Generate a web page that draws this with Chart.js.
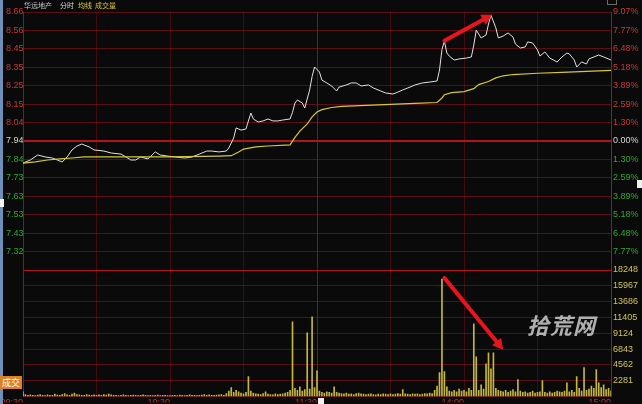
<!DOCTYPE html>
<html>
<head>
<meta charset="utf-8">
<script src="https://cdn.jsdelivr.net/npm/chart.js@4/dist/chart.umd.min.js"></script>
<style>
  html, body { margin: 0; padding: 0; background: #0a0a0a; }
  #wrap { position: relative; width: 642px; height: 404px; overflow: hidden; background: #0a0a0a;
          font-family: "Noto Sans CJK SC", sans-serif; }
  #priceChart { position: absolute; left: 0; top: 0; }
  #volChart { position: absolute; left: 0; top: 262px; }
  .t { position: absolute; top: 0; font-size: 7px; line-height: 10px; white-space: nowrap; }
  #edge { position: absolute; left: 0; top: 0; width: 3px; height: 404px; background: #6f8fb8; }
  .sq { position: absolute; background: #f0f0f0; }
  #corner { position: absolute; left: 607px; top: -4px; width: 8px; height: 7px; border: 1px solid #6a6a6a; }
  #volTag { position: absolute; left: 0; top: 376px; width: 22px; height: 13px; background: #e08020;
            color: #fff; font-size: 9px; line-height: 13px; text-align: center; }
  #mark { position: absolute; left: 527px; top: 308px; font-size: 22px; font-style: italic; font-weight: bold;
          color: rgba(205,205,205,0.85); letter-spacing: 1px; }
</style>
</head>
<body>
<div id="wrap">
  <canvas id="priceChart" width="642" height="280"></canvas>
  <canvas id="volChart" width="642" height="142"></canvas>
  <div id="edge"></div>
  <span class="t" style="left:24px;color:#c8c8c8">华远地产</span>
  <span class="t" style="left:60px;color:#dcdcdc">分时</span>
  <span class="t" style="left:78px;color:#e0d040">均线</span>
  <span class="t" style="left:95px;color:#d8c040">成交量</span>
  <div id="corner"></div>
  <div class="sq" style="left:0;top:199px;width:4px;height:8px"></div>
  <div class="sq" style="left:318px;top:398px;width:6px;height:6px"></div>
  <div class="sq" style="left:637px;top:180px;width:5px;height:8px"></div>
  <div id="volTag">成交</div>
  <div id="mark">拾荒网</div>
</div>
<script>
const prevClose = 7.94;
const priceMin = 7.22;
const priceMax = 8.66;
const volMax = 18248;

const priceTicks = [8.66, 8.557, 8.454, 8.351, 8.249, 8.146, 8.043, 7.94, 7.837, 7.734, 7.631, 7.529, 7.426, 7.323, 7.22];
const priceTickLabels = ['8.66', '8.56', '8.45', '8.35', '8.25', '8.15', '8.04', '7.94', '7.84', '7.73', '7.63', '7.53', '7.43', '7.32', ''];
const pctTickLabels = ['9.07%', '7.77%', '6.48%', '5.18%', '3.89%', '2.59%', '1.30%', '0.00%', '1.30%', '2.59%', '3.89%', '5.18%', '6.48%', '7.77%', ''];
const volTicks = [18248, 15967, 13686, 11405, 9124, 6843, 4562, 2281, 0];
const volTickLabels = ['18248', '15967', '13686', '11405', '9124', '6843', '4562', '2281', ''];
const timeTicks = [0, 30, 60, 90, 120, 150, 180, 210, 240];
const timeTickLabels = ['09:30', '', '10:30', '', '11:30', '', '14:00', '', '15:00'];

// price line (minute of session, price)
const priceMinutes = [0, 3, 6, 9, 12, 14, 16, 18, 20, 22, 24, 27, 29, 33, 36, 40, 42, 44, 46, 48,
  51, 54, 56, 59, 62, 66, 69, 72, 75, 77, 80, 83, 84, 86, 87, 89, 91, 93, 94, 96,
  98, 100, 102, 104, 106, 109, 110, 111, 112, 114, 115, 117, 118, 119, 121, 122, 124, 126, 128, 129,
  132, 134, 136, 138, 141, 143, 146, 148, 151, 153, 155, 158, 160, 163, 166, 169, 170, 171, 172, 173,
  174, 176, 178, 181, 183, 184, 185, 187, 189, 190, 191, 193, 194, 196, 198, 200, 201, 203, 205, 206,
  208, 210, 211, 213, 215, 218, 220, 222, 223, 225, 226, 228, 230, 231, 233, 235, 237, 240];
const priceValues = [7.817, 7.834, 7.862, 7.851, 7.845, 7.834, 7.823, 7.851, 7.890, 7.912, 7.923, 7.907, 7.890, 7.884, 7.873, 7.867, 7.851, 7.834, 7.834, 7.851,
  7.840, 7.879, 7.862, 7.856, 7.851, 7.845, 7.851, 7.867, 7.884, 7.884, 7.879, 7.884, 7.901, 7.957, 8.013, 8.001, 8.007, 8.096, 8.063, 8.046,
  8.052, 8.063, 8.052, 8.052, 8.057, 8.063, 8.100, 8.152, 8.169, 8.152, 8.124, 8.225, 8.300, 8.353, 8.325, 8.280, 8.264, 8.247, 8.219, 8.241,
  8.253, 8.264, 8.264, 8.247, 8.253, 8.236, 8.219, 8.208, 8.202, 8.213, 8.225, 8.241, 8.253, 8.264, 8.269, 8.275, 8.336, 8.450, 8.498, 8.431,
  8.414, 8.392, 8.398, 8.403, 8.409, 8.476, 8.559, 8.515, 8.532, 8.593, 8.643, 8.571, 8.515, 8.526, 8.543, 8.520, 8.481, 8.459, 8.465, 8.493,
  8.487, 8.448, 8.414, 8.437, 8.403, 8.381, 8.409, 8.431, 8.426, 8.392, 8.353, 8.381, 8.370, 8.398, 8.409, 8.420, 8.409, 8.392];

// average price line
const avgMinutes = [0, 5, 10, 15, 20, 25, 60, 80, 85, 88, 90, 95, 100, 109, 111, 113, 116, 118, 120, 122,
  126, 130, 140, 150, 160, 169, 171, 172, 175, 180, 184, 186, 190, 193, 196, 200, 210, 220, 230, 240];
const avgValues = [7.817, 7.823, 7.834, 7.840, 7.845, 7.851, 7.851, 7.856, 7.858, 7.879, 7.895, 7.907, 7.912, 7.918, 7.960, 7.995, 8.035, 8.075, 8.102, 8.115,
  8.127, 8.133, 8.139, 8.144, 8.150, 8.155, 8.180, 8.198, 8.210, 8.216, 8.232, 8.255, 8.272, 8.292, 8.304, 8.311, 8.318, 8.323, 8.329, 8.334];

// volume per minute, 09:30 .. 15:00
const volValues = [
  700, 300, 200, 250, 180, 150, 220, 300, 200, 160,
  250, 180, 200, 350, 220, 180, 300, 450, 250, 200,
  350, 500, 300, 250, 200, 180, 300, 220, 180, 250,
  200, 250, 180, 300, 220, 350, 250, 200, 180, 160,
  200, 250, 180, 150, 200, 220, 180, 160, 200, 250,
  180, 150, 200, 160, 180, 220, 150, 180, 200, 160,
  150, 180, 200, 160, 220, 180, 150, 200, 250, 180,
  200, 160, 180, 220, 300, 200, 250, 180, 200, 220,
  250, 300, 200, 450, 800, 1300, 600, 900, 700, 500,
  400, 600, 2870, 800, 500, 400, 350, 300, 450, 700,
  350, 300, 250, 400, 300, 350, 400, 500, 600, 900,
  10780, 1200, 900, 1400, 800, 1000, 9200, 1100, 11500, 1300,
  3700, 800, 600, 500, 700, 600, 500, 1400, 600, 500,
  450, 400, 500, 350, 400, 300, 450, 500, 400, 350,
  300, 350, 400, 300, 250, 350, 300, 400, 350, 300,
  400, 300, 350, 450, 350, 1000, 400, 350, 300, 400,
  350, 400, 300, 350, 450, 400, 500, 450, 900, 1500,
  3450, 16950, 3600, 1400, 800, 700, 900, 700, 1100, 800,
  900, 700, 1200, 900, 10500, 5750, 900, 1700, 1100, 4740,
  6320, 4020, 6320, 1200, 900, 800, 700, 900, 600, 800,
  1000, 700, 2440, 800, 600, 700, 500, 600, 800, 500,
  600, 700, 2300, 600, 500, 700, 500, 600, 800, 700,
  600, 800, 2000, 700, 900, 600, 2870, 1200, 800, 4170,
  900, 1100, 1500, 1200, 3880, 2000, 1300, 1700, 1000, 1200,
  800
];

// annotation arrows (minute, value)
const arrowPrice = [[172, 8.50], [191.5, 8.645]];
const arrowVol = [[172, 17100], [196, 6750]];

const RED_TXT = '#c83a3a';
const GREEN_TXT = '#34a834';
const WHITE_TXT = '#d8d8d8';
const GRID_DIM = 'rgba(140,20,32,0.62)';
const GRID_V = 'rgba(110,14,24,0.55)';
const GRID_BRIGHT = '#b0141f';
const tickFont = { family: 'Liberation Sans', size: 9 };

function idxOf(list, v) {
  return list.findIndex(t => Math.abs(t - v) < 1e-6);
}
function sideColor(v) {
  if (Math.abs(v - prevClose) < 1e-6) return WHITE_TXT;
  return v > prevClose ? RED_TXT : GREEN_TXT;
}

const arrowPlugin = {
  id: 'arrows',
  afterDatasetsDraw(chart, args, opts) {
    const { ctx, scales } = chart;
    const [a, b] = opts.pts;
    const ys = scales[opts.yKey];
    const x1 = scales.x.getPixelForValue(a[0]), y1 = ys.getPixelForValue(a[1]);
    const x2 = scales.x.getPixelForValue(b[0]), y2 = ys.getPixelForValue(b[1]);
    const ang = Math.atan2(y2 - y1, x2 - x1);
    const head = 12;
    ctx.save();
    ctx.strokeStyle = '#e8161c';
    ctx.fillStyle = '#e8161c';
    ctx.lineWidth = 4;
    ctx.lineCap = 'round';
    ctx.beginPath();
    ctx.moveTo(x1, y1);
    ctx.lineTo(x2 - Math.cos(ang) * head * 0.7, y2 - Math.sin(ang) * head * 0.7);
    ctx.stroke();
    ctx.beginPath();
    ctx.moveTo(x2, y2);
    ctx.lineTo(x2 - head * Math.cos(ang - 0.5), y2 - head * Math.sin(ang - 0.5));
    ctx.lineTo(x2 - head * Math.cos(ang + 0.5), y2 - head * Math.sin(ang + 0.5));
    ctx.closePath();
    ctx.fill();
    ctx.restore();
  }
};

const xAxis = (showLabels) => ({
  type: 'linear',
  min: 0,
  max: 240,
  offset: false,
  afterBuildTicks: s => { s.ticks = timeTicks.map(v => ({ value: v })); },
  afterFit: s => { s.height = showLabels ? 6 : 0; s.paddingLeft = 0; s.paddingRight = 0; },
  ticks: {
    display: showLabels,
    autoSkip: false,
    maxRotation: 0,
    align: 'end',
    padding: 1,
    color: '#c03030',
    font: tickFont,
    callback: v => timeTickLabels[idxOf(timeTicks, v)]
  },
  grid: {
    offset: false,
    drawTicks: false,
    color: c => (c.tick && c.tick.value === 120) ? 'rgba(150,24,34,0.8)' : GRID_V
  },
  border: { display: false }
});

Chart.defaults.animation = false;

const priceChart = new Chart(document.getElementById('priceChart').getContext('2d'), {
  type: 'line',
  data: {
    datasets: [
      {
        label: '均线',
        data: avgMinutes.map((m, i) => ({ x: m, y: avgValues[i] })),
        borderColor: '#d6c83a',
        borderWidth: 1.2,
        pointRadius: 0,
        tension: 0
      },
      {
        label: '价格',
        data: priceMinutes.map((m, i) => ({ x: m, y: priceValues[i] })),
        borderColor: '#e2e2e2',
        borderWidth: 1,
        pointRadius: 0,
        tension: 0
      }
    ]
  },
  options: {
    responsive: false,
    layout: { padding: { top: 12, bottom: 10, left: 6, right: 0 } },
    plugins: { legend: { display: false }, tooltip: { enabled: false }, arrows: { pts: arrowPrice, yKey: 'y' } },
    scales: {
      x: xAxis(false),
      y: {
        position: 'left',
        min: priceMin,
        max: priceMax,
        afterBuildTicks: s => { s.ticks = priceTicks.map(v => ({ value: v })); },
        afterFit: s => { s.width = 17; },
        ticks: {
          crossAlign: 'far',
          padding: 0,
          font: tickFont,
          color: c => sideColor(c.tick.value),
          callback: v => priceTickLabels[idxOf(priceTicks, v)]
        },
        grid: {
          drawTicks: false,
          color: c => (Math.abs(c.tick.value - prevClose) < 1e-6 || Math.abs(c.tick.value - priceMin) < 1e-6) ? GRID_BRIGHT : GRID_DIM,
          lineWidth: c => Math.abs(c.tick.value - prevClose) < 1e-6 ? 2 : 1
        },
        border: { display: true, color: '#8c1420' }
      },
      y2: {
        position: 'right',
        min: priceMin,
        max: priceMax,
        afterBuildTicks: s => { s.ticks = priceTicks.map(v => ({ value: v })); },
        afterFit: s => { s.width = 31; },
        ticks: {
          padding: 2,
          font: tickFont,
          color: c => sideColor(c.tick.value),
          callback: v => pctTickLabels[idxOf(priceTicks, v)]
        },
        grid: { display: false, drawTicks: false },
        border: { display: true, color: '#9c1622' }
      }
    }
  },
  plugins: [arrowPlugin]
});

const volChart = new Chart(document.getElementById('volChart').getContext('2d'), {
  type: 'bar',
  data: {
    datasets: [{
      label: '成交量',
      data: volValues.map((v, i) => ({ x: i, y: v })),
      backgroundColor: '#c4b640',
      barThickness: 1,
      yAxisID: 'y'
    }]
  },
  options: {
    responsive: false,
    layout: { padding: { top: 8, bottom: 0, left: 6, right: 0 } },
    plugins: { legend: { display: false }, tooltip: { enabled: false }, arrows: { pts: arrowVol, yKey: 'y' } },
    scales: {
      x: xAxis(true),
      y: {
        position: 'left',
        min: 0,
        max: volMax,
        afterBuildTicks: s => { s.ticks = volTicks.map(v => ({ value: v })); },
        afterFit: s => { s.width = 17; },
        ticks: { display: false },
        grid: {
          drawTicks: false,
          color: c => c.tick.value === volMax ? GRID_BRIGHT : GRID_DIM
        },
        border: { display: true, color: '#8c1420' }
      },
      yr: {
        position: 'right',
        min: 0,
        max: volMax,
        afterBuildTicks: s => { s.ticks = volTicks.map(v => ({ value: v })); },
        afterFit: s => { s.width = 31; },
        ticks: {
          padding: 2,
          font: tickFont,
          color: '#d2c45a',
          callback: v => volTickLabels[volTicks.indexOf(v)]
        },
        grid: { display: false, drawTicks: false },
        border: { display: true, color: '#9c1622' }
      }
    }
  },
  plugins: [arrowPlugin]
});
</script>
</body>
</html>
